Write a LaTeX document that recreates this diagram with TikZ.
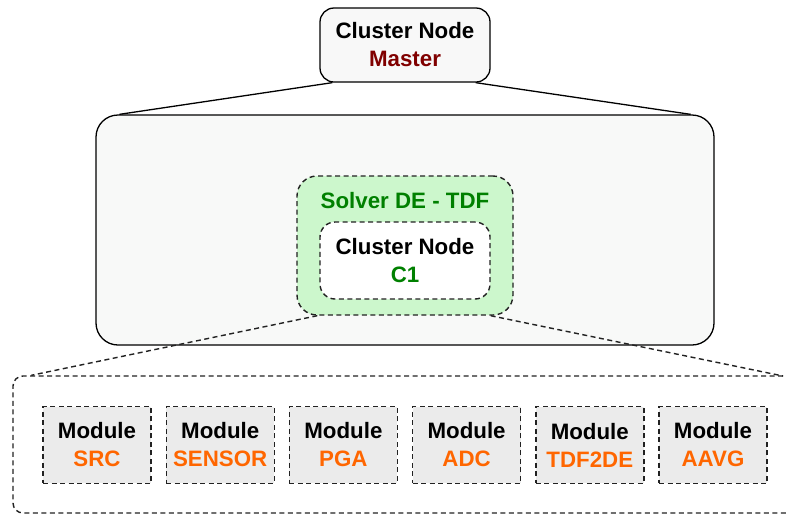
\documentclass[tikz,border=0pt]{standalone}
\usepackage{fontspec}
\setmainfont{Liberation Sans}
\usetikzlibrary{calc}
\definecolor{masterred}{HTML}{800000}
\definecolor{solvergreen}{HTML}{008000}
\definecolor{modorange}{HTML}{FF6600}
\definecolor{solverfill}{HTML}{CCF7CC}
\definecolor{bigfill}{HTML}{F8F9F8}
\definecolor{masterfill}{HTML}{F8F8F8}
\definecolor{modfill}{HTML}{EBEBEB}
\definecolor{dashgray}{HTML}{222222}
\begin{document}
\begin{tikzpicture}[x=1pt,y=-1pt,
  font=\bfseries\fontsize{22.3}{28}\selectfont,
  solidline/.style={line width=1.3pt},
  dashline/.style={line width=1.4pt, draw=dashgray, dash pattern=on 5pt off 3.5pt},
  clusterbox/.style={draw, solidline, rounded corners=14pt, fill=masterfill,
    minimum width=170pt, minimum height=74pt, inner sep=0pt, align=center},
  bigbox/.style={draw, solidline, rounded corners=22pt, fill=bigfill,
    minimum width=618pt, minimum height=230pt, inner sep=0pt},
  solverbox/.style={dashline, rounded corners=20pt, fill=solverfill,
    minimum width=216pt, minimum height=139pt, inner sep=0pt},
  innerbox/.style={dashline, rounded corners=15pt, fill=white,
    minimum width=170pt, minimum height=77pt, inner sep=0pt, align=center},
  bottombox/.style={dashline, rounded corners=10pt, fill=white,
    minimum width=797pt, minimum height=137pt, inner sep=0pt},
  modbox/.style={dashline, fill=modfill,
    minimum width=108pt, minimum height=76.5pt, inner sep=0pt, align=center}
]
\useasboundingbox (0,0) rectangle (786,515);

\node[clusterbox] (master) at (405,45) {Cluster Node\\\textcolor{masterred}{Master}};
\node[bigbox] (big) at (405,230) {};
\node[solverbox] (solver) at (405,245.5) {};
\node[text=solvergreen, inner sep=0pt] (solverlabel) at (405,201) {Solver DE - TDF};
\node[innerbox] (c1) at (405,260.5) {Cluster Node\\\textcolor{solvergreen}{C1}};

\node[bottombox] (bottom) at (411.5,444.5) {};
\node[modbox] (m1) at (97,445) {Module\\\textcolor{modorange}{SRC}};
\node[modbox] (m2) at (220.2,445) {Module\\\textcolor{modorange}{SENSOR}};
\node[modbox] (m3) at (343.4,445) {Module\\\textcolor{modorange}{PGA}};
\node[modbox] (m4) at (466.6,445) {Module\\\textcolor{modorange}{ADC}};
\node[modbox] (m5) at (589.8,445) {Module\\\textcolor{modorange}{TDF2DE}};
\node[modbox] (m6) at (713,445) {Module\\\textcolor{modorange}{AAVG}};

\coordinate (mL) at ($(master.south west)+(13,0)$);
\coordinate (mR) at ($(master.south east)+(-15,0)$);
\coordinate (bL) at ($(big.north west)+(24,0)$);
\coordinate (bR) at ($(big.north east)+(-24,0)$);
\draw[solidline] (mL) -- (bL);
\draw[solidline] (mR) -- (bR);

\coordinate (sL) at ($(solver.south west)+(21,0)$);
\coordinate (sR) at ($(solver.south east)+(-23,0)$);
\coordinate (tL) at ($(bottom.north west)+(19,0)$);
\coordinate (tR) at (783,376);
\draw[dashline] (sL) -- (tL);
\draw[dashline] (sR) -- (tR);
\end{tikzpicture}
\end{document}
